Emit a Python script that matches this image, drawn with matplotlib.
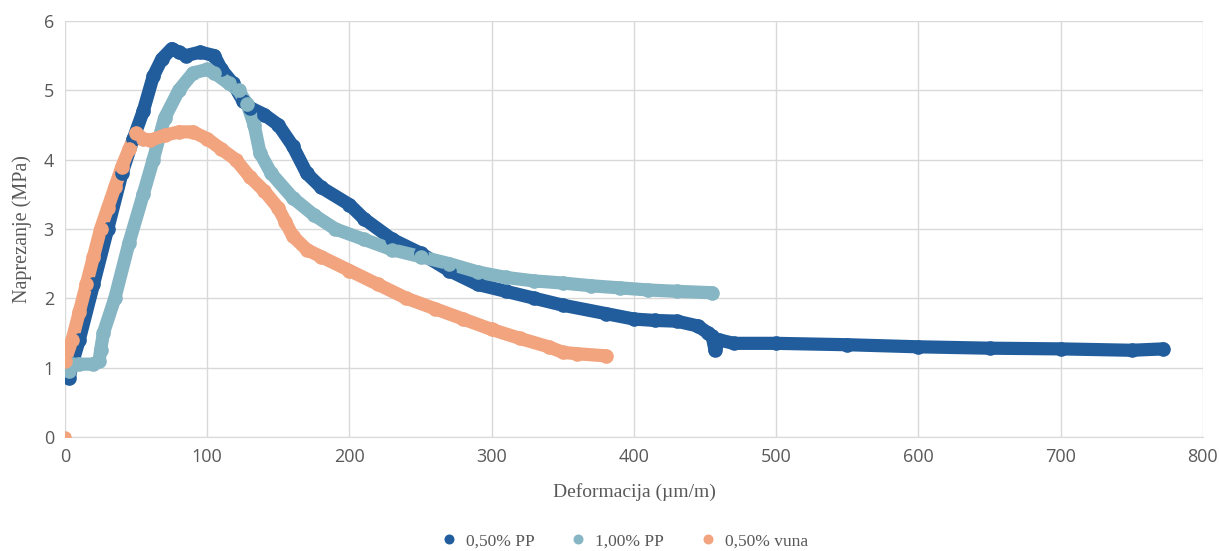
import matplotlib.pyplot as plt

# 0,50% PP
pp050_x = [3, 5, 10, 20, 30, 40, 48, 55, 62, 68, 75, 80, 85, 95, 105, 110, 118, 125, 130,
           140, 150, 160, 170, 180, 200, 210, 230, 250, 270, 290, 310, 330, 350, 380,
           400, 415, 430, 445, 452, 455, 457, 460, 470, 500, 550, 600, 650, 700, 750, 772]
pp050_y = [0.85, 1.05, 1.4, 2.2, 3.0, 3.8, 4.3, 4.7, 5.2, 5.45, 5.6, 5.55, 5.5, 5.55, 5.5, 5.3, 5.1, 4.85, 4.75,
           4.65, 4.5, 4.2, 3.8, 3.6, 3.35, 3.15, 2.85, 2.65, 2.4, 2.2, 2.1, 2.0, 1.9, 1.78,
           1.7, 1.68, 1.67, 1.6, 1.5, 1.45, 1.25, 1.4, 1.35, 1.35, 1.33, 1.3, 1.28, 1.27, 1.25, 1.27]

# 1,00% PP
pp100_x = [3, 5, 10, 20, 24, 25, 27, 35, 45, 55, 62, 70, 80, 90, 100, 105, 115, 122, 128, 133,
           137, 145, 160, 175, 190, 210, 230, 250, 270, 290, 310, 330, 350, 370, 390, 410, 430, 455]
pp100_y = [0.95, 1.05, 1.05, 1.05, 1.1, 1.25, 1.5, 2.0, 2.8, 3.5, 4.0, 4.6, 5.0, 5.25, 5.3, 5.25, 5.1, 5.0, 4.8, 4.5,
           4.1, 3.8, 3.45, 3.2, 3.0, 2.85, 2.7, 2.6, 2.5, 2.38, 2.3, 2.25, 2.22, 2.18, 2.15, 2.12, 2.1, 2.08]

# 0,50% vuna
vuna_x = [0, 5, 10, 15, 20, 25, 30, 35, 40, 45, 50, 55, 60, 70, 80, 90, 100, 110, 120, 130,
          140, 150, 155, 160, 170, 180, 200, 220, 240, 260, 280, 300, 320, 340, 350, 360, 380]
vuna_y = [1.1, 1.4, 1.8, 2.2, 2.6, 3.0, 3.3, 3.6, 3.9, 4.15, 4.38, 4.3, 4.28, 4.35, 4.4, 4.4, 4.3, 4.15, 4.0, 3.75,
          3.55, 3.3, 3.1, 2.9, 2.7, 2.6, 2.4, 2.2, 2.0, 1.85, 1.7, 1.55, 1.42, 1.3, 1.22, 1.2, 1.17]
vuna_start = (0, 0)

c_pp050 = '#215d9c'
c_pp100 = '#86b5c3'
c_vuna = '#f2a47e'
grid_c = '#d9d9d9'
tick_c = '#595959'

fig = plt.figure(figsize=(12.2, 5.51), dpi=100)
ax = fig.add_axes([0.0533, 0.207, 0.9327, 0.755])

for xs, ys, col, lab in [(pp050_x, pp050_y, c_pp050, '0,50% PP'),
                         (pp100_x, pp100_y, c_pp100, '1,00% PP'),
                         (vuna_x, vuna_y, c_vuna, '0,50% vuna')]:
    ax.plot(xs, ys, color=col, lw=9.5, solid_capstyle='round', solid_joinstyle='round', zorder=2)
    ax.plot(xs, ys, 'o', color=col, ms=9.5, lw=0, zorder=3, label=lab)
ax.plot([vuna_start[0]], [vuna_start[1]], 'o', color=c_vuna, ms=8, zorder=3)

ax.set_xlim(0, 800)
ax.set_ylim(0, 6)
ax.set_xticks(range(0, 801, 100))
ax.set_yticks(range(0, 7))
ax.grid(True, color=grid_c, lw=1)
ax.set_axisbelow(True)
for s in ['top', 'right', 'left']:
    ax.spines[s].set_visible(False)
ax.spines['bottom'].set_color(grid_c)
ax.tick_params(length=0, colors=tick_c, labelsize=13, pad=8)
for lbl in ax.get_xticklabels() + ax.get_yticklabels():
    lbl.set_fontfamily('Open Sans')

ax.set_xlabel('Deformacija (µm/m)', family='Liberation Serif', fontsize=14, color=tick_c, labelpad=12)
ax.set_ylabel('Naprezanje (MPa)', family='Liberation Serif', fontsize=14.5, color=tick_c, labelpad=8)

leg = fig.legend(*ax.get_legend_handles_labels(), loc='center', bbox_to_anchor=(0.508, 0.018),
                 ncol=3, frameon=False, prop={'family': 'Liberation Serif', 'size': 12.5},
                 handletextpad=0.0, columnspacing=1.5, markerscale=0.65)
for t in leg.get_texts():
    t.set_color(tick_c)

fig.savefig('out.png', dpi=100)
